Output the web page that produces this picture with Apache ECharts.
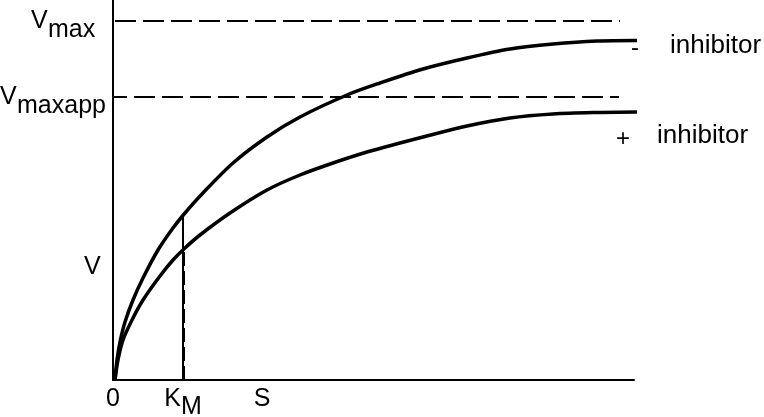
<!DOCTYPE html>
<html><head><meta charset="utf-8">
<style>html,body{margin:0;padding:0;background:#fff}#c{width:764px;height:417px}</style>
<script src="https://cdn.jsdelivr.net/npm/echarts@6/dist/echarts.min.js"></script>
</head><body><div id="c"></div>
<script>
// ---- data (S = substrate, V = velocity, arbitrary units) ----
const sMinus = [2, 4, 7, 12, 20, 30, 45, 60, 72, 89, 120, 154, 187, 234, 267, 310, 354, 397, 440, 484, 525];
const vMinus = [0, 20, 38, 58, 80, 102, 130, 152, 167, 186, 217, 243, 263, 285, 297, 311, 322, 331, 336, 339, 339.5];
const sPlus  = [2, 5, 10, 19, 30, 47, 60, 72, 87, 117, 154, 187, 220, 254, 287, 310, 354, 397, 440, 484, 525];
const vPlus  = [0, 20, 40, 60, 80, 104, 120, 132, 145, 167, 190, 205, 217, 228, 237, 243, 254, 262, 266, 267.5, 268];
const vmaxValue = 359;
const vmaxAppValue = 283;
const dashStartS = [2, 1];
const dashEndS = [507, 506];
const kmValue = 70;
const kmTopV = 165;
const kmLowerV = 130;
const xTickValues = [0, 70, 149];
const xTickLabels = ['0', 'K', 'S'];
const xTickSubs = ['', 'M', ''];
const yTickValues = [359, 283, 113];
const yTickLabels = ['V', 'V', 'V'];
const yTickSubs = ['max', 'maxapp', ''];
const curveSigns = ['-', '+'];
const curveLabels = ['inhibitor', 'inhibitor'];

const zip = (a, b) => a.map((v, i) => [v, b[i]]);
const FONT = '"Liberation Sans", Arial, sans-serif';
const chart = echarts.init(document.getElementById('c'), null, {renderer: 'canvas'});

const axisCommon = {
  type: 'value', min: 0,
  axisLine: {show: true, onZero: false, lineStyle: {color: '#000', width: 2}},
  axisTick: {show: false}, axisLabel: {show: false}, splitLine: {show: false}
};

chart.setOption({
  animation: false,
  backgroundColor: '#fff',
  grid: {left: 113, top: 0, width: 521, height: 380},
  xAxis: Object.assign({}, axisCommon, {max: 521}),
  yAxis: Object.assign({}, axisCommon, {max: 380}),
  series: [
    {type: 'line', data: zip(sMinus, vMinus), smooth: 0.3, symbol: 'none', clip: false,
     lineStyle: {color: '#000', width: 3.5}},
    {type: 'line', data: zip(sPlus, vPlus), smooth: 0.3, symbol: 'none', clip: false,
     lineStyle: {color: '#000', width: 3.5}},
    {type: 'line', data: [[dashStartS[0], vmaxValue], [dashEndS[0], vmaxValue]], symbol: 'none',
     lineStyle: {color: '#000', width: 2, type: [21, 7]}},
    {type: 'line', data: [[dashStartS[1], vmaxAppValue], [dashEndS[1], vmaxAppValue]], symbol: 'none',
     lineStyle: {color: '#000', width: 2, type: [21, 7], dashOffset: 8}},
    {type: 'line', data: [[kmValue, 0], [kmValue, kmTopV]], symbol: 'none',
     lineStyle: {color: '#000', width: 2}},
    {type: 'line', data: [[kmValue + 1, 0], [kmValue + 1, kmLowerV]], symbol: 'none',
     lineStyle: {color: '#000', width: 2, type: [14, 5]}}
  ]
});

function txt(text, x, y, size, align) {
  return {type: 'text', x: x, y: y, z: 100,
    style: {text: text, fontSize: size, fontFamily: FONT, fill: '#000', align: align || 'left', verticalAlign: 'middle'}};
}

const g = [];
const yLabelLeft = [31, 0, 84];
yTickValues.forEach((v, i) => {
  const p = chart.convertToPixel({gridIndex: 0}, [0, v]);
  g.push(txt(yTickLabels[i], yLabelLeft[i], p[1], 25, 'left'));
  if (yTickSubs[i]) g.push(txt(yTickSubs[i], yLabelLeft[i] + 17, p[1] + 9, 25, 'left'));
});
xTickValues.forEach((v, i) => {
  const p = chart.convertToPixel({gridIndex: 0}, [v, 0]);
  if (xTickSubs[i]) {
    g.push(txt(xTickLabels[i], p[0] - 2, 399, 25, 'right'));
    g.push(txt(xTickSubs[i], p[0] - 2, 407, 25, 'left'));
  } else {
    g.push(txt(xTickLabels[i], p[0], 399, 25, 'center'));
  }
});
const endM = chart.convertToPixel({gridIndex: 0}, [sMinus[sMinus.length - 1], vMinus[vMinus.length - 1]]);
const endP = chart.convertToPixel({gridIndex: 0}, [sPlus[sPlus.length - 1], vPlus[vPlus.length - 1]]);
g.push(txt(curveSigns[0], endM[0] - 3, endM[1] + 8, 24, 'center'));
g.push(txt(curveLabels[0], endM[0] + 32, endM[1] + 5, 26, 'left'));
g.push(txt(curveSigns[1], endP[0] - 15, endP[1] + 27, 24, 'center'));
g.push(txt(curveLabels[1], endP[0] + 19, endP[1] + 24, 26, 'left'));
chart.setOption({graphic: g});
</script></body></html>
